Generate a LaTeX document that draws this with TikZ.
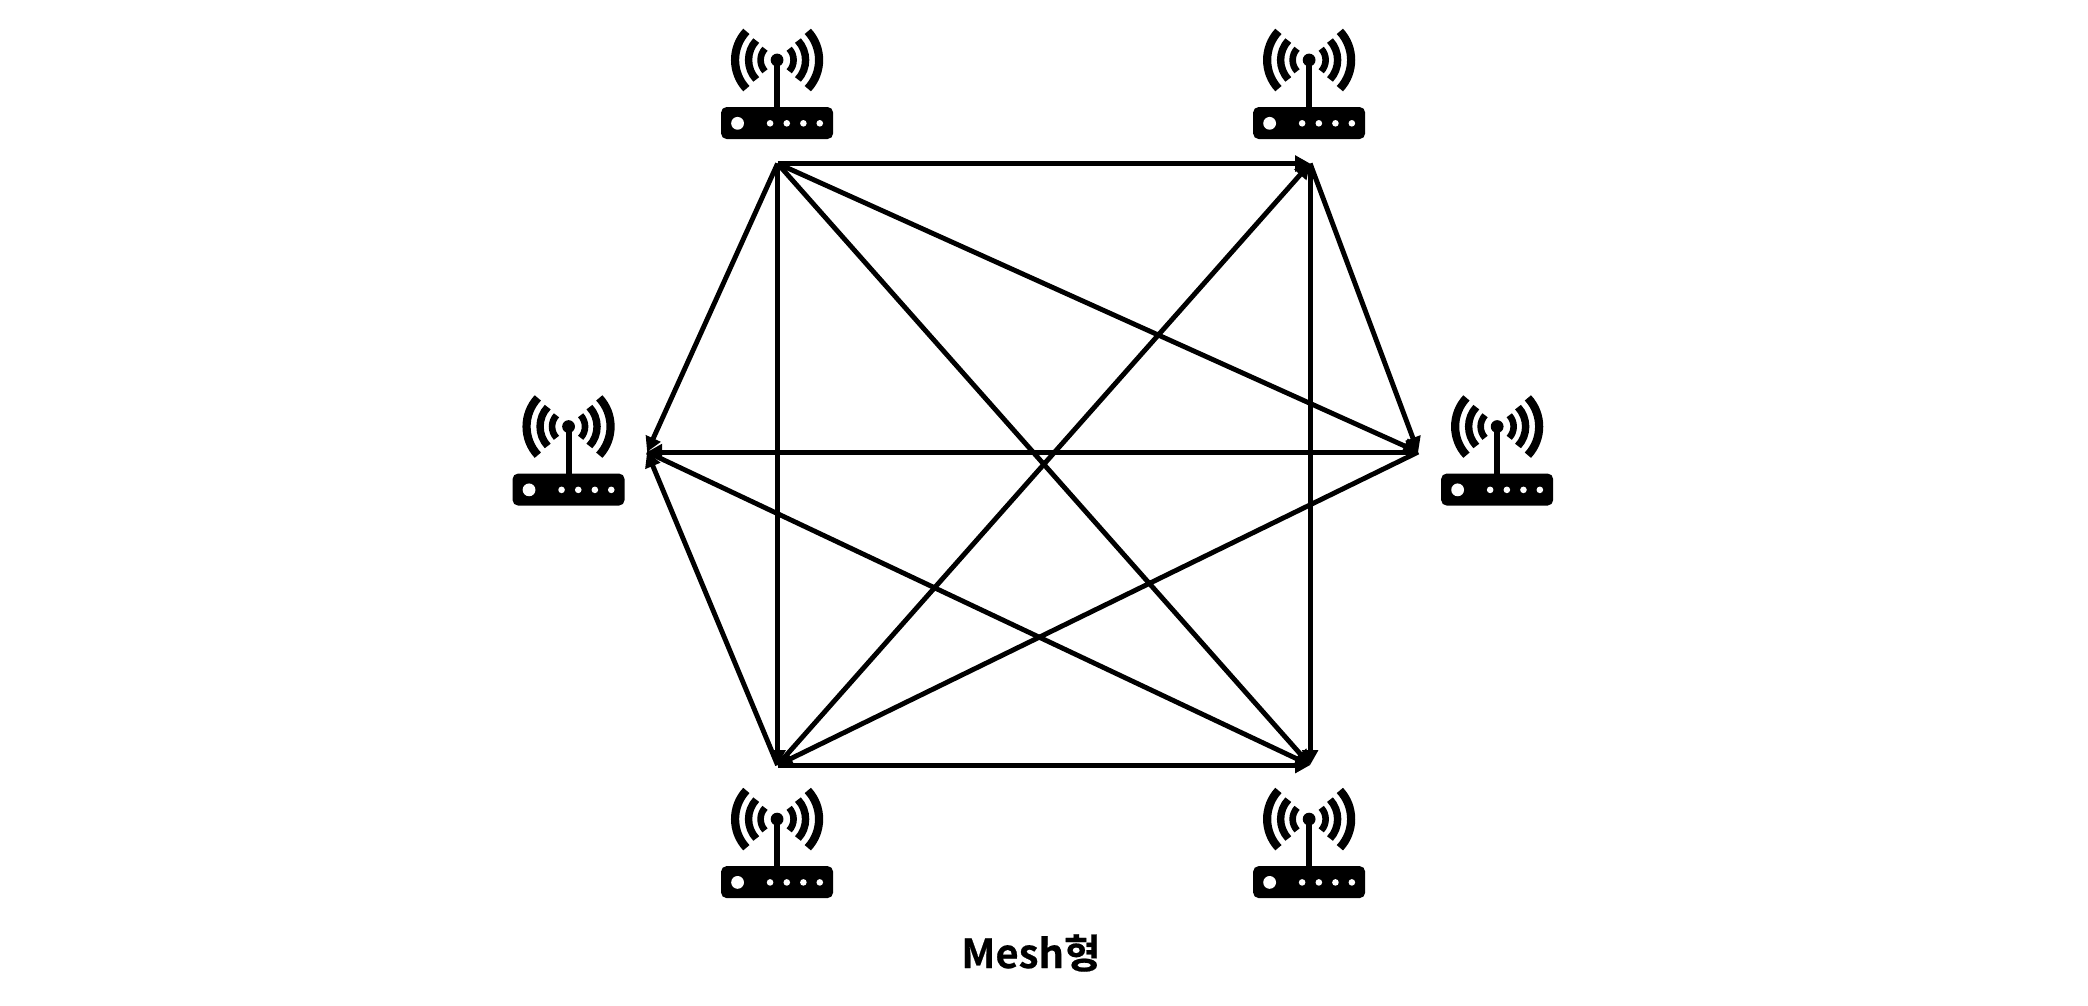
\documentclass[tikz,border=0pt]{standalone}
\usepackage{fontspec}
\newfontfamily\krfont{Noto Sans CJK KR Bold}[FakeBold=0.5]
\usetikzlibrary{arrows.meta}
\def\px{0.5bp}
\tikzset{
  link/.style={line width=4.9*\px,-{Triangle[length=15*\px,width=15.5*\px]}},
  wave/.style={line cap=butt},
  pics/router/.style={code={
    \foreach \r/\w in {42/8.2,28.5/7.4,16.5/6.6}{
      \draw[wave,line width=\w*\px] (137:\r) arc[start angle=137,end angle=223,radius=\r];
      \draw[wave,line width=\w*\px] (43:\r) arc[start angle=43,end angle=-43,radius=\r];
    }
    \fill (0,0) circle[radius=6.4];
    \fill (-3,0) rectangle (3,50);
    \fill[rounded corners=5.5*\px] (-56,47) rectangle (56,79);
    \fill[white] (-39.5,63.3) circle[radius=6.4];
    \foreach \x in {-7,9.7,26.3,42.7}{\fill[white] (\x,63.3) circle[radius=3.3];}
  }}
}
\begin{document}
\begin{tikzpicture}[x=\px,y=-\px]
\useasboundingbox (0,0) rectangle (2087.8,1005.8);
\fill[white] (0,0) rectangle (2087.8,1005.8);
\pic at (777,60) {router};
\pic at (1309,60) {router};
\pic at (568.5,426.5) {router};
\pic at (1497,426.5) {router};
\pic at (777,819) {router};
\pic at (1309,819) {router};
\coordinate (A) at (777.5,163.5);
\coordinate (B) at (1310,163.5);
\coordinate (E) at (1418,452);
\coordinate (F) at (647,452);
\coordinate (C) at (777.5,765);
\coordinate (D) at (1310,765);
\draw[link] (A) -- (B);
\draw[link] (A) -- (C);
\draw[link] (A) -- (D);
\draw[link] (A) -- (E);
\draw[link] (A) -- (F);
\draw[link] (B) -- (D);
\draw[link] (B) -- (E);
\draw[link] (C) -- (B);
\draw[link] (C) -- (D);
\draw[link] (E) -- (C);
\draw[link] (C) -- (F);
\draw[link] (E) -- (F);
\draw[link] (F) -- (D);
\node[inner sep=0pt,anchor=base] (title) at (1031,968) {\krfont\fontsize{20bp}{24bp}\selectfont Mesh형};
\end{tikzpicture}
\end{document}
